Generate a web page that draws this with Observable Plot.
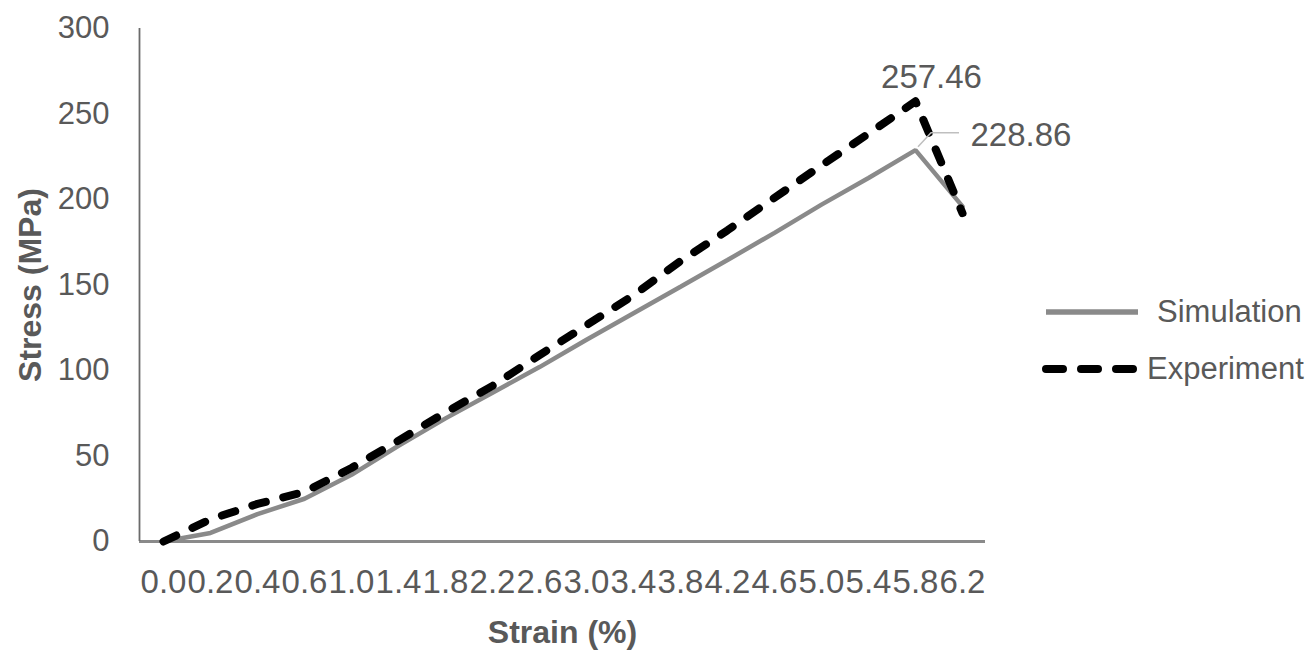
<!DOCTYPE html>
<html>
<head>
<meta charset="utf-8">
<script src="https://cdn.jsdelivr.net/npm/d3@7"></script>
<script src="https://cdn.jsdelivr.net/npm/@observablehq/plot@0.6"></script>
<style>
  body { margin: 0; background: #fff; font-family: "Liberation Sans", Arial, sans-serif; }
  #wrap { position: relative; width: 1316px; height: 655px; overflow: hidden; }
  #wrap svg.plot { position: absolute; left: 0; top: 0; }
  .leg { position: absolute; display: flex; align-items: center; height: 40px; font-size: 31px; color: #595959; }
  .leg svg { display: block; }
</style>
</head>
<body>
<div id="wrap"></div>
<script>
const strain = ["0.0","0.2","0.4","0.6","1.0","1.4","1.8","2.2","2.6","3.0","3.4","3.8","4.2","4.6","5.0","5.4","5.8","6.2"];
const simulation = [0, 5, 16, 25, 39, 56, 72, 87, 102, 118, 133.5, 149, 164.6, 180.5, 197, 212.6, 228.86, 196];
const experiment = [0, 13, 22, 29, 43, 59, 75.5, 91, 109, 126.5, 144, 164, 182, 201, 220, 238.5, 257.46, 192];
const seriesNames = ["Simulation", "Experiment"];
const yTicks = [0, 50, 100, 150, 200, 250, 300];

const simRows = strain.map((s, i) => ({strain: s, stress: simulation[i], series: seriesNames[0]}));
const expRows = strain.map((s, i) => ({strain: s, stress: experiment[i], series: seriesNames[1]}));
const iSim = simulation.indexOf(d3.max(simulation));
const iExp = experiment.indexOf(d3.max(experiment));
const simPeak = [simRows[iSim]];
const expPeak = [expRows[iExp]];

const font = "'Liberation Sans', Arial, sans-serif";
const gray = "#595959";

const plot = Plot.plot({
  width: 1000,
  height: 655,
  marginLeft: 139,
  marginRight: 15,
  marginTop: 28,
  marginBottom: 114,
  style: {fontFamily: font, color: gray, background: "transparent", overflow: "visible"},
  x: {type: "point", domain: strain, padding: 0.5, axis: null},
  y: {domain: [0, 300], axis: null},
  marks: [
    Plot.axisX({tickSize: 0, tickPadding: 28, fontSize: 33, label: null, fill: gray}),
    Plot.axisY(yTicks, {tickSize: 0, tickPadding: 30, fontSize: 31, label: null, fill: gray}),
    Plot.ruleY([0], {stroke: "#8a8a8a", strokeWidth: 3}),
    Plot.line(simRows, {x: "strain", y: "stress", stroke: "#8a8a8a", strokeWidth: 4.5, strokeLinejoin: "miter"}),
    Plot.line(expRows, {x: "strain", y: "stress", stroke: "#000", strokeWidth: 8, strokeDasharray: "14,18", strokeLinecap: "round", strokeLinejoin: "round"}),
    Plot.text(expPeak, {x: "strain", y: "stress", text: d => d.stress.toFixed(2), dx: 16, dy: -13, lineAnchor: "bottom", fontSize: 33, fill: gray}),
    Plot.text(simPeak, {x: "strain", y: "stress", text: d => d.stress.toFixed(2), dx: 55, dy: -15, textAnchor: "start", fontSize: 33, fill: gray}),
    Plot.text(["Strain (%)"], {frameAnchor: "bottom", textAnchor: "middle", dy: 101, fontSize: 32, fontWeight: "bold", fill: gray}),
    Plot.text(["Stress (MPa)"], {frameAnchor: "left", textAnchor: "middle", lineAnchor: "middle", dx: -109, rotate: -90, fontSize: 32, fontWeight: "bold", fill: gray})
  ]
});
plot.classList.add("plot");

// y-axis line and leader line from library scales
const xs = plot.scale("x"), ys = plot.scale("y");
const svg = d3.select(plot);
const yr = ys.range;
svg.append("line")
  .attr("x1", 139.5).attr("x2", 139.5)
  .attr("y1", yr[1]).attr("y2", yr[0])
  .attr("stroke", "#6b6b6b").attr("stroke-width", 1.8);
const px = xs.apply(simPeak[0].strain), py = ys.apply(simPeak[0].stress);
svg.append("path")
  .attr("d", `M${px + 3},${py - 3}L${px + 16},${py - 17}L${px + 44},${py - 17}`)
  .attr("fill", "none").attr("stroke", "#bfbfbf").attr("stroke-width", 1.5);

const wrap = document.getElementById("wrap");
wrap.appendChild(plot);

// legend
const legendItems = [
  {name: seriesNames[0], top: 292, textLeft: 1157, stroke: "#8a8a8a", width: 5.5, dash: null, cap: "butt"},
  {name: seriesNames[1], top: 349, textLeft: 1147, stroke: "#000", width: 8, dash: "17,18", cap: "round"}
];
for (const it of legendItems) {
  const div = document.createElement("div");
  div.className = "leg";
  div.style.left = "1038px";
  div.style.top = it.top + "px";
  const s = d3.create("svg").attr("width", 106).attr("height", 40);
  s.append("line").attr("x1", 8).attr("x2", 100).attr("y1", 20).attr("y2", 20)
    .attr("stroke", it.stroke).attr("stroke-width", it.width)
    .attr("stroke-dasharray", it.dash).attr("stroke-linecap", it.cap);
  div.appendChild(s.node());
  const t = document.createElement("span");
  t.textContent = it.name;
  t.style.position = "absolute";
  t.style.left = (it.textLeft - 1038) + "px";
  t.style.whiteSpace = "nowrap";
  div.appendChild(t);
  wrap.appendChild(div);
}
</script>
</body>
</html>
